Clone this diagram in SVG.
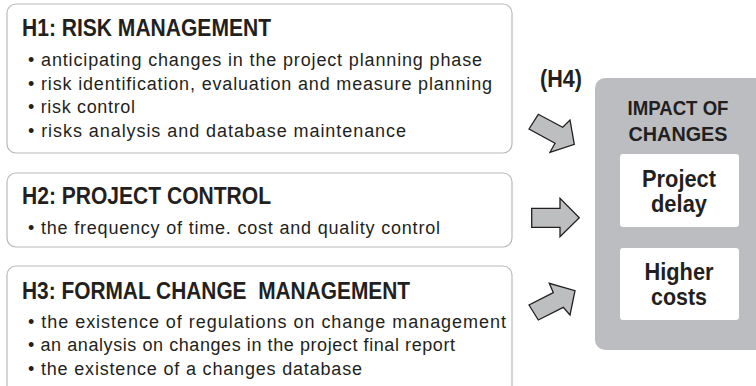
<svg xmlns="http://www.w3.org/2000/svg" width="756" height="386" viewBox="0 0 756 386">
<style>
.box{fill:#fff;stroke:#b9b9b9;stroke-width:1.2}
.hd{font-family:"Liberation Sans",Arial,sans-serif;font-weight:bold;font-size:23px;fill:#231f20}
.bl{font-family:"Liberation Sans",Arial,sans-serif;font-size:18px;fill:#231f20}
.rt{font-family:"Liberation Sans",Arial,sans-serif;font-weight:bold;fill:#231f20;text-anchor:middle}
.arr{fill:#bdbec0;stroke:#231f20;stroke-width:1.3;stroke-linejoin:miter}
</style>
<rect width="756" height="386" fill="#fff"/>
<g id="h1">
<rect class="box" x="7" y="4" width="505" height="149" rx="9"/>
<text class="hd" x="22" y="36" textLength="249" lengthAdjust="spacingAndGlyphs">H1: RISK MANAGEMENT</text>
<text class="bl" x="28" y="66" textLength="454" lengthAdjust="spacing">• anticipating changes in the project planning phase</text>
<text class="bl" x="28" y="90" textLength="464" lengthAdjust="spacing">• risk identification, evaluation and measure planning</text>
<text class="bl" x="28" y="113" textLength="107" lengthAdjust="spacing">• risk control</text>
<text class="bl" x="28" y="137" textLength="378" lengthAdjust="spacing">• risks analysis and database maintenance</text>
</g>
<g id="h2">
<rect class="box" x="7" y="173" width="505" height="74" rx="9"/>
<text class="hd" x="22" y="204" textLength="249" lengthAdjust="spacingAndGlyphs">H2: PROJECT CONTROL</text>
<text class="bl" x="28" y="234" textLength="412" lengthAdjust="spacing">• the frequency of time. cost and quality control</text>
</g>
<g id="h3">
<rect class="box" x="7" y="266" width="505" height="130" rx="9"/>
<text class="hd" x="22" y="299" textLength="388" lengthAdjust="spacingAndGlyphs" xml:space="preserve">H3: FORMAL CHANGE  MANAGEMENT</text>
<text class="bl" x="28" y="328" textLength="478" lengthAdjust="spacing">• the existence of regulations on change management</text>
<text class="bl" x="28" y="351" textLength="427" lengthAdjust="spacing">• an analysis on changes in the project final report</text>
<text class="bl" x="28" y="375" textLength="334" lengthAdjust="spacing">• the existence of a changes database</text>
</g>
<g id="h4">
<text class="hd" x="540" y="87" font-size="22" textLength="42" lengthAdjust="spacingAndGlyphs">(H4)</text>
</g>
<g id="impact">
<rect x="595" y="78" width="175" height="272" rx="10" fill="#bcbdc0"/>
<text class="rt" x="678" y="115" font-size="21" textLength="101" lengthAdjust="spacingAndGlyphs">IMPACT OF</text>
<text class="rt" x="678" y="141" font-size="21" textLength="99" lengthAdjust="spacingAndGlyphs">CHANGES</text>
<g id="delay">
<rect x="620" y="154" width="119" height="73" rx="3" fill="#fff"/>
<text class="rt" x="679" y="187" font-size="23" textLength="74" lengthAdjust="spacingAndGlyphs">Project</text>
<text class="rt" x="679" y="212" font-size="23" textLength="56" lengthAdjust="spacingAndGlyphs">delay</text>
</g>
<g id="costs">
<rect x="620" y="248" width="119" height="72" rx="3" fill="#fff"/>
<text class="rt" x="679" y="280" font-size="23" textLength="69" lengthAdjust="spacingAndGlyphs">Higher</text>
<text class="rt" x="679" y="305" font-size="23" textLength="56" lengthAdjust="spacingAndGlyphs">costs</text>
</g>
</g>
<g id="connectors">
<polygon class="arr" points="529,129 538.3,114.3 562.7,127.3 570,120 574.3,144.3 550,152.3 555,143.3"/>
<polygon class="arr" points="531.7,208.3 560,208.3 560,198.3 579.3,217.7 560,236.7 560,227.3 531.7,227.3"/>
<polygon class="arr" points="529,305 538.3,320 563.3,307.3 570,315 575,290.7 549.3,283.3 553.3,292.7"/>
</g>
</svg>
